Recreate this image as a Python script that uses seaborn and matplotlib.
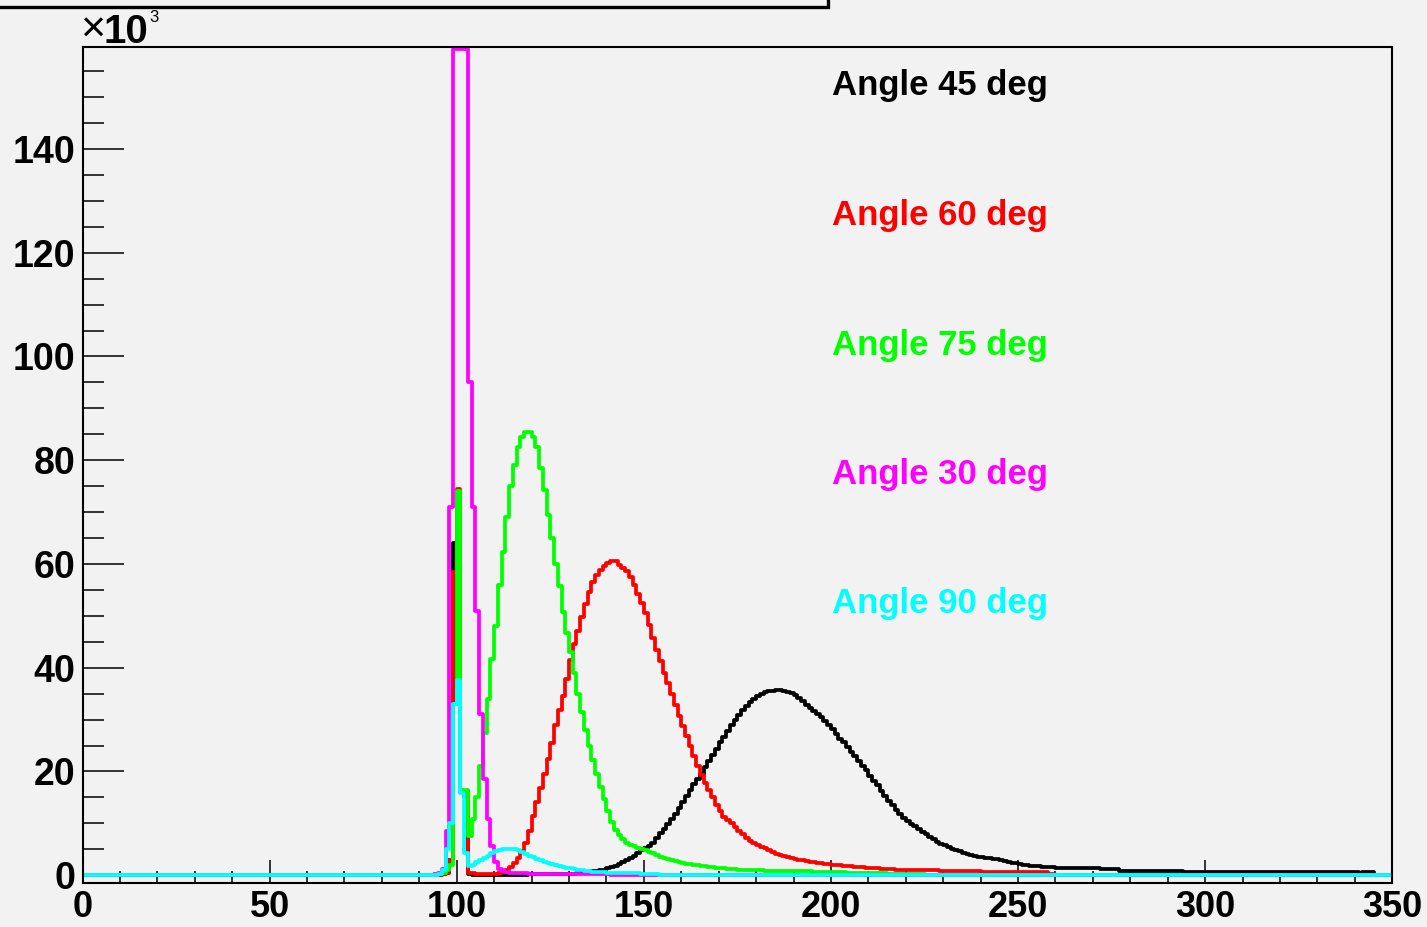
import numpy as np
import pandas as pd
import matplotlib
matplotlib.use("Agg")
import matplotlib.pyplot as plt
import seaborn as sns
from matplotlib.patches import Rectangle
from matplotlib.ticker import MultipleLocator, FixedLocator

# ---------------------------------------------------------------------------
# Histogram contents (counts in units of 10^3), one bin per unit from 0 to 350.
# Each series is listed from its first filled bin; bins outside are empty.
# ---------------------------------------------------------------------------
N_BINS = 350

angle45_start = 95
angle45 = [
    0.0, 0.2, 0.5, 3.0, 64.0, 35.0, 16.0, 15.0, 0.2, 0.1,
    0.1, 0.1, 0.1, 0.1, 0.1, 0.1, 0.1, 0.1, 0.1, 0.1,
    0.1, 0.1, 0.1, 0.1, 0.2, 0.2, 0.2, 0.2, 0.2, 0.2,
    0.2, 0.2, 0.3, 0.3, 0.3, 0.3, 0.3, 0.4, 0.5, 0.6,
    0.7, 0.8, 0.9, 1.0, 1.1, 1.3, 1.5, 1.8, 2.1, 2.5,
    2.9, 3.3, 3.8, 4.3, 4.8, 5.2, 5.7, 6.3, 7.2, 8.1,
    9.0, 9.9, 10.8, 11.8, 13.0, 14.2, 15.3, 16.5, 17.5, 18.6,
    19.6, 20.9, 22.1, 23.2, 24.4, 25.6, 26.6, 27.8, 29.0, 29.9,
    30.8, 31.8, 32.6, 33.4, 33.9, 34.5, 34.9, 35.3, 35.5, 35.6,
    35.7, 35.7, 35.6, 35.4, 35.1, 34.7, 34.1, 33.5, 32.8, 32.3,
    31.7, 31.1, 30.5, 29.8, 29.0, 28.1, 27.2, 26.3, 25.6, 24.7,
    23.8, 22.9, 22.0, 21.1, 20.2, 19.2, 18.2, 17.3, 16.3, 15.3,
    14.4, 13.5, 12.6, 11.8, 11.0, 10.4, 9.8, 9.4, 8.9, 8.4,
    7.9, 7.4, 7.0, 6.5, 6.1, 5.8, 5.4, 5.1, 4.8, 4.6,
    4.3, 4.1, 3.9, 3.7, 3.6, 3.5, 3.4, 3.3, 3.2, 3.1,
    2.9, 2.7, 2.5, 2.4, 2.3, 2.1, 2.0, 1.9, 1.8, 1.8,
    1.7, 1.6, 1.6, 1.5, 1.5, 1.4, 1.4, 1.4, 1.4, 1.3,
    1.3, 1.3, 1.3, 1.3, 1.3, 1.3, 1.3, 1.2, 1.2, 1.2,
    1.2, 1.2, 0.9, 0.9, 0.9, 0.9, 0.9, 0.9, 0.9, 0.9,
    0.9, 0.9, 0.9, 0.9, 0.9, 0.9, 0.9, 0.9, 0.9, 0.6,
    0.6, 0.6, 0.6, 0.6, 0.6, 0.6, 0.6, 0.6, 0.6, 0.6,
    0.6, 0.6, 0.6, 0.6, 0.6, 0.6, 0.6, 0.6, 0.6, 0.6,
    0.6, 0.6, 0.6, 0.6, 0.6, 0.6, 0.6, 0.6, 0.6, 0.6,
    0.6, 0.6, 0.6, 0.6, 0.6, 0.6, 0.6, 0.6, 0.6, 0.6,
    0.6, 0.6, 0.6, 0.6, 0.6, 0.6, 0.0, 0.6, 0.6, 0.6,
]

angle60_start = 95
angle60 = [
    0.0, 0.2, 0.5, 3.0, 58.5, 74.5, 16.3, 16.3, 0.5, 0.4,
    0.3, 0.3, 0.3, 0.3, 0.3, 0.3, 0.4, 0.6, 1.0, 1.6,
    2.4, 3.3, 4.6, 6.2, 8.5, 11.5, 14.2, 16.8, 19.5, 22.5,
    25.5, 29.0, 31.8, 34.5, 37.8, 41.5, 44.5, 47.0, 49.8, 52.2,
    54.6, 56.5, 57.8, 58.8, 59.6, 60.2, 60.5, 60.5, 59.8, 59.2,
    58.6, 57.5, 56.0, 54.3, 52.5, 50.6, 48.2, 45.8, 43.5, 41.3,
    39.0, 37.0, 35.0, 32.8, 30.7, 28.8, 26.8, 25.0, 23.0, 21.1,
    19.3, 17.8, 16.4, 15.1, 13.6, 12.3, 11.3, 10.6, 10.0, 9.3,
    8.5, 7.9, 7.2, 6.6, 6.2, 5.8, 5.5, 5.2, 4.8, 4.4,
    4.1, 3.9, 3.7, 3.5, 3.4, 3.2, 3.0, 2.9, 2.7, 2.6,
    2.5, 2.4, 2.3, 2.2, 2.1, 2.0, 1.95, 1.9, 1.85, 1.8,
    1.7, 1.65, 1.6, 1.5, 1.4, 1.35, 1.3, 1.3, 1.25, 1.2,
    1.2, 1.15, 1.1, 1.1, 1.1, 1.05, 1.05, 1.0, 1.0, 1.0,
    1.0, 1.0, 0.95, 0.95, 0.9, 0.8, 0.8, 0.8, 0.8, 0.8,
    0.8, 0.8, 0.75, 0.75, 0.75, 0.7, 0.7, 0.7, 0.7, 0.7,
    0.7, 0.65, 0.65, 0.65, 0.6, 0.6, 0.6, 0.6, 0.6, 0.6,
    0.6, 0.6, 0.6, 0.3, 0.3,
]

angle75_start = 95
angle75 = [
    0.2, 0.5, 1.0, 2.0, 33.0, 74.0, 16.5, 16.5, 7.5, 10.8,
    15.0, 21.0, 27.5, 34.0, 41.6, 48.0, 56.0, 62.4, 69.0, 75.0,
    79.0, 82.6, 84.5, 85.5, 85.5, 84.5, 82.5, 78.5, 74.3, 69.5,
    65.0, 60.0, 55.7, 50.8, 46.7, 43.0, 39.0, 35.0, 31.5, 28.0,
    25.0, 22.3, 19.5, 17.0, 14.6, 12.3, 10.3, 8.8, 7.7, 6.9,
    6.3, 5.9, 5.6, 5.3, 5.0, 4.8, 4.5, 4.2, 3.9, 3.6,
    3.3, 3.1, 2.9, 2.7, 2.5, 2.3, 2.2, 2.1, 2.0, 1.9,
    1.8, 1.7, 1.6, 1.5, 1.4, 1.35, 1.3, 1.25, 1.2, 1.15,
    1.1, 1.1, 1.05, 1.0, 1.0, 0.95, 0.95, 0.9, 0.9, 0.9,
    0.85, 0.85, 0.85, 0.8, 0.8, 0.8, 0.8, 0.75, 0.75, 0.75,
    0.7, 0.7, 0.7, 0.7, 0.7, 0.7, 0.6, 0.6, 0.6, 0.5,
    0.5, 0.5, 0.5, 0.5, 0.4, 0.4, 0.4, 0.4, 0.4, 0.4,
    0.3, 0.3, 0.3, 0.3, 0.3, 0.3, 0.3, 0.3, 0.3, 0.3,
]

angle30_start = 93
angle30 = [
    0.1, 0.2, 0.4, 1.2, 8.5, 71.0, 160.0, 160.0, 160.0, 160.0,
    95.0, 71.0, 51.0, 31.0, 18.5, 10.8, 5.6, 2.5, 1.2, 0.8,
    0.6, 0.5, 0.5, 0.4, 0.4, 0.4, 0.3, 0.3, 0.3, 0.3,
    0.3, 0.3, 0.3, 0.2, 0.2, 0.2, 0.2, 0.2, 0.2, 0.2,
    0.2, 0.2, 0.2, 0.2, 0.2, 0.2, 0.2, 0.2,
]

angle90_start = 94
angle90 = [
    0.1, 0.3, 1.0, 5.0, 10.0, 33.0, 37.7, 15.8, 4.2, 1.7,
    2.0, 2.5, 3.0, 3.4, 3.8, 4.2, 4.6, 4.9, 5.0, 5.0,
    5.0, 5.0, 4.8, 4.5, 4.1, 3.8, 3.5, 3.2, 2.9, 2.6,
    2.4, 2.2, 2.0, 1.8, 1.6, 1.4, 1.3, 1.2, 1.1, 1.0,
    0.9, 0.8, 0.7, 0.7, 0.6, 0.6, 0.5, 0.5, 0.5, 0.5,
    0.4, 0.4, 0.4, 0.4, 0.4, 0.3, 0.3, 0.3, 0.3, 0.3,
]

series_labels = ["Angle 45 deg", "Angle 60 deg", "Angle 75 deg",
                 "Angle 30 deg", "Angle 90 deg"]
series_colors = ["#000000", "#ff0000", "#00ff00", "#ff00ff", "#00ffff"]
series_starts = [angle45_start, angle60_start, angle75_start,
                 angle30_start, angle90_start]
series_values = [angle45, angle60, angle75, angle30, angle90]

x_ticks = [0, 50, 100, 150, 200, 250, 300, 350]
y_ticks = [0, 20, 40, 60, 80, 100, 120, 140]

# ---------------------------------------------------------------------------
# Styling (ROOT-like canvas)
# ---------------------------------------------------------------------------
sns.set_style("ticks")
plt.rcParams["font.family"] = ["Liberation Sans", "DejaVu Sans"]
plt.rcParams["font.weight"] = "bold"
for key in ["text.color", "axes.labelcolor", "xtick.color", "ytick.color",
            "xtick.labelcolor", "ytick.labelcolor"]:
    plt.rcParams[key] = "black"

BG = "#f2f2f2"
W, H = 1427, 927
Y_BOTTOM, Y_TOP = -1.5, 159.6

fig = plt.figure(figsize=(W / 100, H / 100), dpi=100, facecolor=BG)
ax = fig.add_axes([82.5 / W, 1 - 883 / H, (1392.3 - 82.5) / W, (883 - 47.3) / H],
                  facecolor=BG)

centers = np.arange(N_BINS) + 0.5

for color, start, vals in zip(series_colors, series_starts, series_values):
    counts = np.zeros(N_BINS)
    counts[start:start + len(vals)] = vals
    # bins above the frame are drawn flat along its top edge
    counts = np.minimum(counts, Y_TOP - 0.4)
    frame = pd.DataFrame({"energy": centers, "count": counts})
    sns.histplot(data=frame, x="energy", weights="count", binwidth=1,
                 binrange=(0, N_BINS), element="step", fill=False,
                 color=color, linewidth=2.7, ax=ax)

ax.set_xlim(0, 350)
ax.set_ylim(Y_BOTTOM, Y_TOP)
ax.set_xlabel("")
ax.set_ylabel("")

ax.xaxis.set_major_locator(FixedLocator(x_ticks))
ax.xaxis.set_minor_locator(MultipleLocator(10))
ax.yaxis.set_major_locator(FixedLocator(y_ticks))
ax.yaxis.set_minor_locator(MultipleLocator(5))
ax.set_xticklabels([str(v) for v in x_ticks])
ax.set_yticklabels([str(v) for v in y_ticks])

ax.tick_params(axis="x", which="major", direction="in", length=16.5, width=1.1,
               labelsize=26, pad=5, color="black", labelcolor="black")
ax.tick_params(axis="x", which="minor", direction="in", length=8.6, width=1.1,
               color="black")
ax.tick_params(axis="y", which="major", direction="in", length=29.5, width=1.1,
               labelsize=27, pad=5, color="black", labelcolor="black")
ax.tick_params(axis="y", which="minor", direction="in", length=15, width=1.1,
               color="black")
ax.tick_params(top=False, right=False, which="both")

for side in ["left", "bottom", "top", "right"]:
    ax.spines[side].set_visible(True)
    ax.spines[side].set_linewidth(1.5)
    ax.spines[side].set_color("black")

# axis exponent
fig.text(80 / W, 1 - 42 / H, "×", fontsize=31, fontweight="normal",
         color="black", ha="left", va="baseline")
fig.text(104 / W, 1 - 43 / H, "10", fontsize=29, fontweight="bold",
         color="black", ha="left", va="baseline")
fig.text(149 / W, 1 - 22 / H, "3", fontsize=12, fontweight="normal",
         color="black", ha="left", va="baseline")

# series labels
label_rows = [85, 215, 345, 475, 603]
for text, color, row in zip(series_labels, series_colors, label_rows):
    fig.text(832 / W, 1 - row / H, text, color=color, fontsize=25,
             fontweight="bold", ha="left", va="center")

# title box along the top edge
fig.patches.append(Rectangle((-0.01, 1 - 6.8 / H), 827.5 / W + 0.01, 0.1,
                             transform=fig.transFigure, fill=False,
                             edgecolor="black", linewidth=2.4, clip_on=False))

fig.savefig("out.png", dpi=100, facecolor=BG)
